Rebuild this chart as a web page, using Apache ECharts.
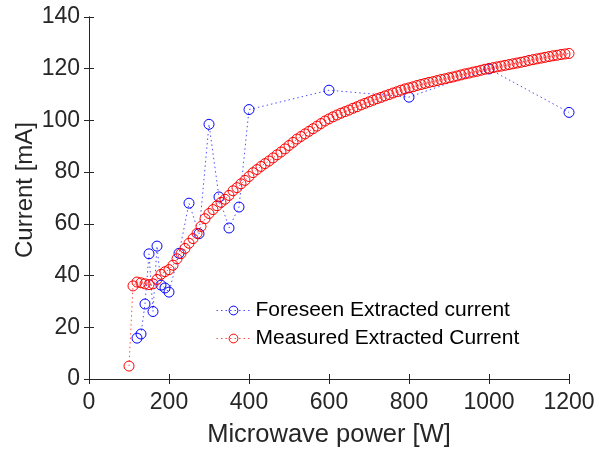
<!DOCTYPE html>
<html>
<head>
<meta charset="utf-8">
<script src="https://cdn.jsdelivr.net/npm/echarts@6/dist/echarts.min.js"></script>
<style>
  html, body { margin: 0; padding: 0; background: #fff; }
  #chart { width: 595px; height: 451px; }
</style>
</head>
<body>
<div id="chart"></div>
<script>
// foreseen extracted current (blue)
const foreseenPower = [120, 130, 140, 150, 160, 170, 180, 190, 200, 225, 250, 275, 300, 325, 350, 375, 400, 600, 800, 1000, 1200]
const foreseenCurrent = [15.8, 17.4, 29, 48.4, 26.1, 51.4, 36.3, 35.2, 33.6, 48.6, 68, 56.2, 98.5, 70.4, 58.4, 66.5, 104.2, 111.7, 109, 119.9, 103.1]

// measured extracted current (red), 10 W steps after the first point
const measuredPower = [100, 110, 120, 130, 140, 150, 160, 170, 180, 190,
  200, 210, 220, 230, 240, 250, 260, 270, 280, 290,
  300, 310, 320, 330, 340, 350, 360, 370, 380, 390,
  400, 410, 420, 430, 440, 450, 460, 470, 480, 490,
  500, 510, 520, 530, 540, 550, 560, 570, 580, 590,
  600, 610, 620, 630, 640, 650, 660, 670, 680, 690,
  700, 710, 720, 730, 740, 750, 760, 770, 780, 790,
  800, 810, 820, 830, 840, 850, 860, 870, 880, 890,
  900, 910, 920, 930, 940, 950, 960, 970, 980, 990,
  1000, 1010, 1020, 1030, 1040, 1050, 1060, 1070, 1080, 1090,
  1100, 1110, 1120, 1130, 1140, 1150, 1160, 1170, 1180, 1190, 1200]
const measuredCurrent = [5, 36, 37.5, 37.2, 36.8, 36.5, 36.8, 38.5, 40.5, 41.5,
  42.3, 44, 46.5, 48.5, 50.5, 52.5, 54.3, 56.3, 59, 62,
  64, 65.5, 67, 68.3, 69.5, 71, 72.8, 74, 75.5, 76.8,
  78.3, 79.8, 81, 82.2, 83.3, 84.3, 85.5, 86.7, 87.8, 89,
  90.3, 91.5, 92.8, 93.8, 94.8, 95.8, 96.8, 97.8, 98.8, 99.8,
  100.6, 101.4, 102.1, 102.8, 103.4, 104, 104.7, 105.3, 106, 106.6,
  107.2, 107.8, 108.4, 108.9, 109.5, 110, 110.6, 111.1, 111.7, 112.2,
  112.6, 113, 113.5, 113.9, 114.3, 114.7, 115, 115.4, 115.8, 116.1,
  116.5, 116.8, 117.2, 117.6, 118, 118.3, 118.7, 119, 119.4, 119.8,
  120.1, 120.4, 120.7, 121, 121.3, 121.6, 121.9, 122.2, 122.5, 122.8,
  123.2, 123.5, 123.8, 124.1, 124.4, 124.7, 125, 125.2, 125.5, 125.7, 125.9]

let chart = echarts.init(document.getElementById('chart'))
const font = 'Liberation Sans, Arial, sans-serif'
const textColor = '#262626'
const axisLine = { show: true, lineStyle: { color: '#262626', width: 1 } }
const tick = { show: true, inside: true, length: 5, lineStyle: { color: '#262626' } }

let options = {
  animation: false,
  grid: { left: 89, right: 26, top: 17, bottom: 72, containLabel: false, outerBoundsMode: 'none' },
  legend: {
    left: 211,
    top: 295,
    orient: 'vertical',
    itemWidth: 34,
    itemHeight: 11,
    itemGap: 7,
    itemStyle: { borderWidth: 1 },
    lineStyle: { width: 1 },
    textStyle: { fontFamily: font, fontSize: 21, color: '#000' },
    data: ['Foreseen Extracted current', 'Measured Extracted Current'],
  },
  xAxis: [
    {
      type: 'value', min: 0, max: 1200, interval: 200,
      name: 'Microwave power [W]', nameLocation: 'middle', nameGap: 43, nameMoveOverlap: false,
      nameTextStyle: { fontFamily: font, fontSize: 25.5, color: textColor },
      axisLine: axisLine, axisTick: tick,
      axisLabel: { fontFamily: font, fontSize: 23, color: textColor, margin: 12, formatter: v => String(v) },
      splitLine: { show: false },
    },
    {
      type: 'value', position: 'top', min: 0, max: 1200, interval: 200,
      axisLine: axisLine, axisTick: tick, axisLabel: { show: false }, splitLine: { show: false },
    },
  ],
  yAxis: [
    {
      type: 'value', min: 0, max: 140, interval: 20,
      name: 'Current [mA]', nameLocation: 'middle', nameGap: 52, nameMoveOverlap: false,
      nameTextStyle: { fontFamily: font, fontSize: 24, color: textColor, padding: [0, 0, 0, 16] },
      axisLine: axisLine, axisTick: tick,
      axisLabel: { fontFamily: font, fontSize: 23, color: textColor, margin: 9 },
      splitLine: { show: false },
    },
    {
      type: 'value', position: 'right', min: 0, max: 140, interval: 20,
      axisLine: axisLine, axisTick: tick, axisLabel: { show: false }, splitLine: { show: false },
    },
  ],
  series: [
    {
      name: 'Foreseen Extracted current',
      type: 'line',
      symbol: 'circle',
      symbolSize: 10,
      itemStyle: { color: 'rgba(0,0,0,0)', borderColor: '#0000ff', borderWidth: 1 },
      lineStyle: { color: '#4d4dff', width: 1, type: [1.5, 3] },
      data: foreseenPower.map((p, i) => [p, foreseenCurrent[i]]),
    },
    {
      name: 'Measured Extracted Current',
      type: 'line',
      symbol: 'circle',
      symbolSize: 10,
      itemStyle: { color: 'rgba(0,0,0,0)', borderColor: '#ff0000', borderWidth: 1 },
      lineStyle: { color: '#ff4d4d', width: 1, type: [1.5, 3] },
      data: measuredPower.map((p, i) => [p, measuredCurrent[i]]),
    },
  ],
}
chart.setOption(options)
</script>
</body>
</html>
